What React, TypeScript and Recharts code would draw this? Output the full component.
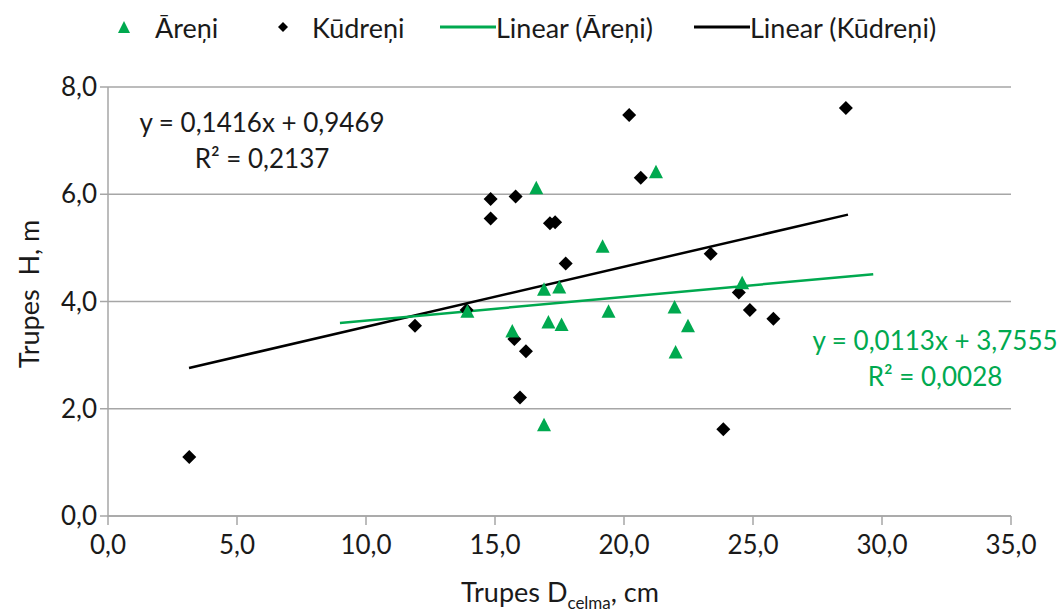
import React from "react";
import { CartesianGrid, Scatter, ScatterChart, XAxis, YAxis } from "recharts";

// tree diameter (cm) vs tree height (m) for the two sites
const areni = [
  { x: 16.6, y: 6.11 },
  { x: 21.24, y: 6.41 },
  { x: 19.17, y: 5.02 },
  { x: 16.9, y: 4.22 },
  { x: 17.49, y: 4.26 },
  { x: 13.93, y: 3.81 },
  { x: 19.4, y: 3.81 },
  { x: 21.96, y: 3.89 },
  { x: 17.07, y: 3.61 },
  { x: 17.58, y: 3.56 },
  { x: 22.48, y: 3.54 },
  { x: 15.67, y: 3.44 },
  { x: 22.0, y: 3.05 },
  { x: 16.9, y: 1.69 },
  { x: 24.58, y: 4.34 },
];

const kudreni = [
  { x: 3.15, y: 1.1 },
  { x: 11.9, y: 3.55 },
  { x: 13.9, y: 3.84 },
  { x: 14.83, y: 5.91 },
  { x: 14.83, y: 5.55 },
  { x: 15.8, y: 5.96 },
  { x: 17.13, y: 5.46 },
  { x: 17.33, y: 5.48 },
  { x: 17.74, y: 4.71 },
  { x: 20.2, y: 7.48 },
  { x: 20.65, y: 6.31 },
  { x: 23.36, y: 4.89 },
  { x: 24.45, y: 4.17 },
  { x: 28.6, y: 7.61 },
  { x: 15.75, y: 3.3 },
  { x: 16.2, y: 3.07 },
  { x: 15.97, y: 2.21 },
  { x: 23.85, y: 1.62 },
  { x: 24.88, y: 3.84 },
  { x: 25.79, y: 3.68 },
];

// trendline end points
const trendAreni = [
  { x: 8.99, y: 3.6 },
  { x: 29.66, y: 4.51 },
];
const trendKudreni = [
  { x: 3.14, y: 2.76 },
  { x: 28.68, y: 5.62 },
];

const xTicks = [0, 5, 10, 15, 20, 25, 30, 35];
const yTicks = [0, 2, 4, 6, 8];

const GREEN = "#00A94F";
const GRID = "#A6A6A6";
const FONT = "Lato, 'Open Sans', sans-serif";
const TEXT = "#1a1a1a";

const fmt = (v: number) => v.toFixed(1).replace(".", ",");

const Triangle = ({ cx, cy, fill }: any) => (
  <polygon
    points={`${cx},${cy - 7.5} ${cx + 7},${cy + 6} ${cx - 7},${cy + 6}`}
    fill={fill}
  />
);

const Diamond = ({ cx, cy, fill }: any) => (
  <polygon
    points={`${cx},${cy - 7} ${cx + 7},${cy} ${cx},${cy + 7} ${cx - 7},${cy}`}
    fill={fill}
  />
);

const NoDot = () => <g />;

const abs = (left: number, top: number): React.CSSProperties => ({
  position: "absolute",
  left,
  top,
  transform: "translateY(-50%)",
  whiteSpace: "nowrap",
});

const LegendBar = () => (
  <div style={{ fontFamily: FONT, fontSize: 27, color: TEXT }}>
    <svg style={abs(115, 27)} width={18} height={18}>
      <polygon points="9,3 15,15 3,15" fill={GREEN} />
    </svg>
    <span style={abs(155, 27)}>Āreņi</span>
    <svg style={abs(274, 27)} width={18} height={18}>
      <polygon points="9,4 14,9 9,14 4,9" fill="#000" />
    </svg>
    <span style={abs(312, 27)}>Kūdreņi</span>
    <svg style={abs(440, 27)} width={56} height={10}>
      <line x1={0} y1={5} x2={56} y2={5} stroke={GREEN} strokeWidth={3} />
    </svg>
    <span style={abs(496, 27)}>Linear (Āreņi)</span>
    <svg style={abs(694, 27)} width={56} height={10}>
      <line x1={0} y1={5} x2={56} y2={5} stroke="#000" strokeWidth={3} />
    </svg>
    <span style={abs(750, 27)}>Linear (Kūdreņi)</span>
  </div>
);

const eqStyle: React.CSSProperties = {
  position: "absolute",
  fontFamily: FONT,
  fontSize: 26,
  whiteSpace: "nowrap",
  textAlign: "center",
  transform: "translate(-50%, -50%)",
};

export default function App() {
  return (
    <div
      style={{
        position: "absolute",
        left: 0,
        top: 0,
        width: 1061,
        height: 611,
        background: "#fff",
        fontFamily: FONT,
      }}
    >
      <ScatterChart
        width={1061}
        height={611}
        margin={{ top: 87, right: 50, bottom: 0, left: 48 }}
      >
        <CartesianGrid horizontal vertical={false} stroke={GRID} strokeWidth={1.5} />
        <XAxis
          type="number"
          dataKey="x"
          domain={[0, 35]}
          ticks={xTicks}
          tickFormatter={fmt}
          height={95}
          stroke={GRID}
          strokeWidth={1.5}
          tickSize={9}
          tickMargin={11}
          tick={{ fill: TEXT, fontSize: 26, fontFamily: FONT }}
          allowDataOverflow
        />
        <YAxis
          type="number"
          dataKey="y"
          domain={[0, 8]}
          ticks={yTicks}
          tickFormatter={fmt}
          width={60}
          stroke={GRID}
          strokeWidth={1.5}
          tickSize={8}
          tickMargin={3}
          tick={{ fill: TEXT, fontSize: 26, fontFamily: FONT }}
        />
        <Scatter
          name="Linear (Kūdreņi)"
          data={trendKudreni}
          line={{ stroke: "#000", strokeWidth: 2.5 }}
          shape={NoDot}
          isAnimationActive={false}
        />
        <Scatter
          name="Linear (Āreņi)"
          data={trendAreni}
          line={{ stroke: GREEN, strokeWidth: 2.5 }}
          shape={NoDot}
          isAnimationActive={false}
        />
        <Scatter
          name="Kūdreņi"
          data={kudreni}
          fill="#000"
          shape={Diamond}
          isAnimationActive={false}
        />
        <Scatter
          name="Āreņi"
          data={areni}
          fill={GREEN}
          shape={Triangle}
          isAnimationActive={false}
        />
      </ScatterChart>

      <LegendBar />

      <div style={{ ...eqStyle, left: 262, top: 140, color: TEXT, lineHeight: "36px" }}>
        y = 0,1416x + 0,9469
        <br />
        R² = 0,2137
      </div>
      <div style={{ ...eqStyle, left: 935, top: 358, color: GREEN, lineHeight: "36px" }}>
        y = 0,0113x + 3,7555
        <br />
        R² = 0,0028
      </div>

      <div
        style={{
          position: "absolute",
          left: 28,
          top: 294,
          transform: "translate(-50%, -50%) rotate(-90deg)",
          fontSize: 27,
          color: TEXT,
          whiteSpace: "pre",
        }}
      >
        {"Trupes  H, m"}
      </div>
      <div
        style={{
          position: "absolute",
          left: 560,
          top: 594,
          transform: "translate(-50%, -50%)",
          fontSize: 27,
          color: TEXT,
          whiteSpace: "nowrap",
        }}
      >
        Trupes D<sub style={{ fontSize: 17 }}>celma</sub>, cm
      </div>
    </div>
  );
}
